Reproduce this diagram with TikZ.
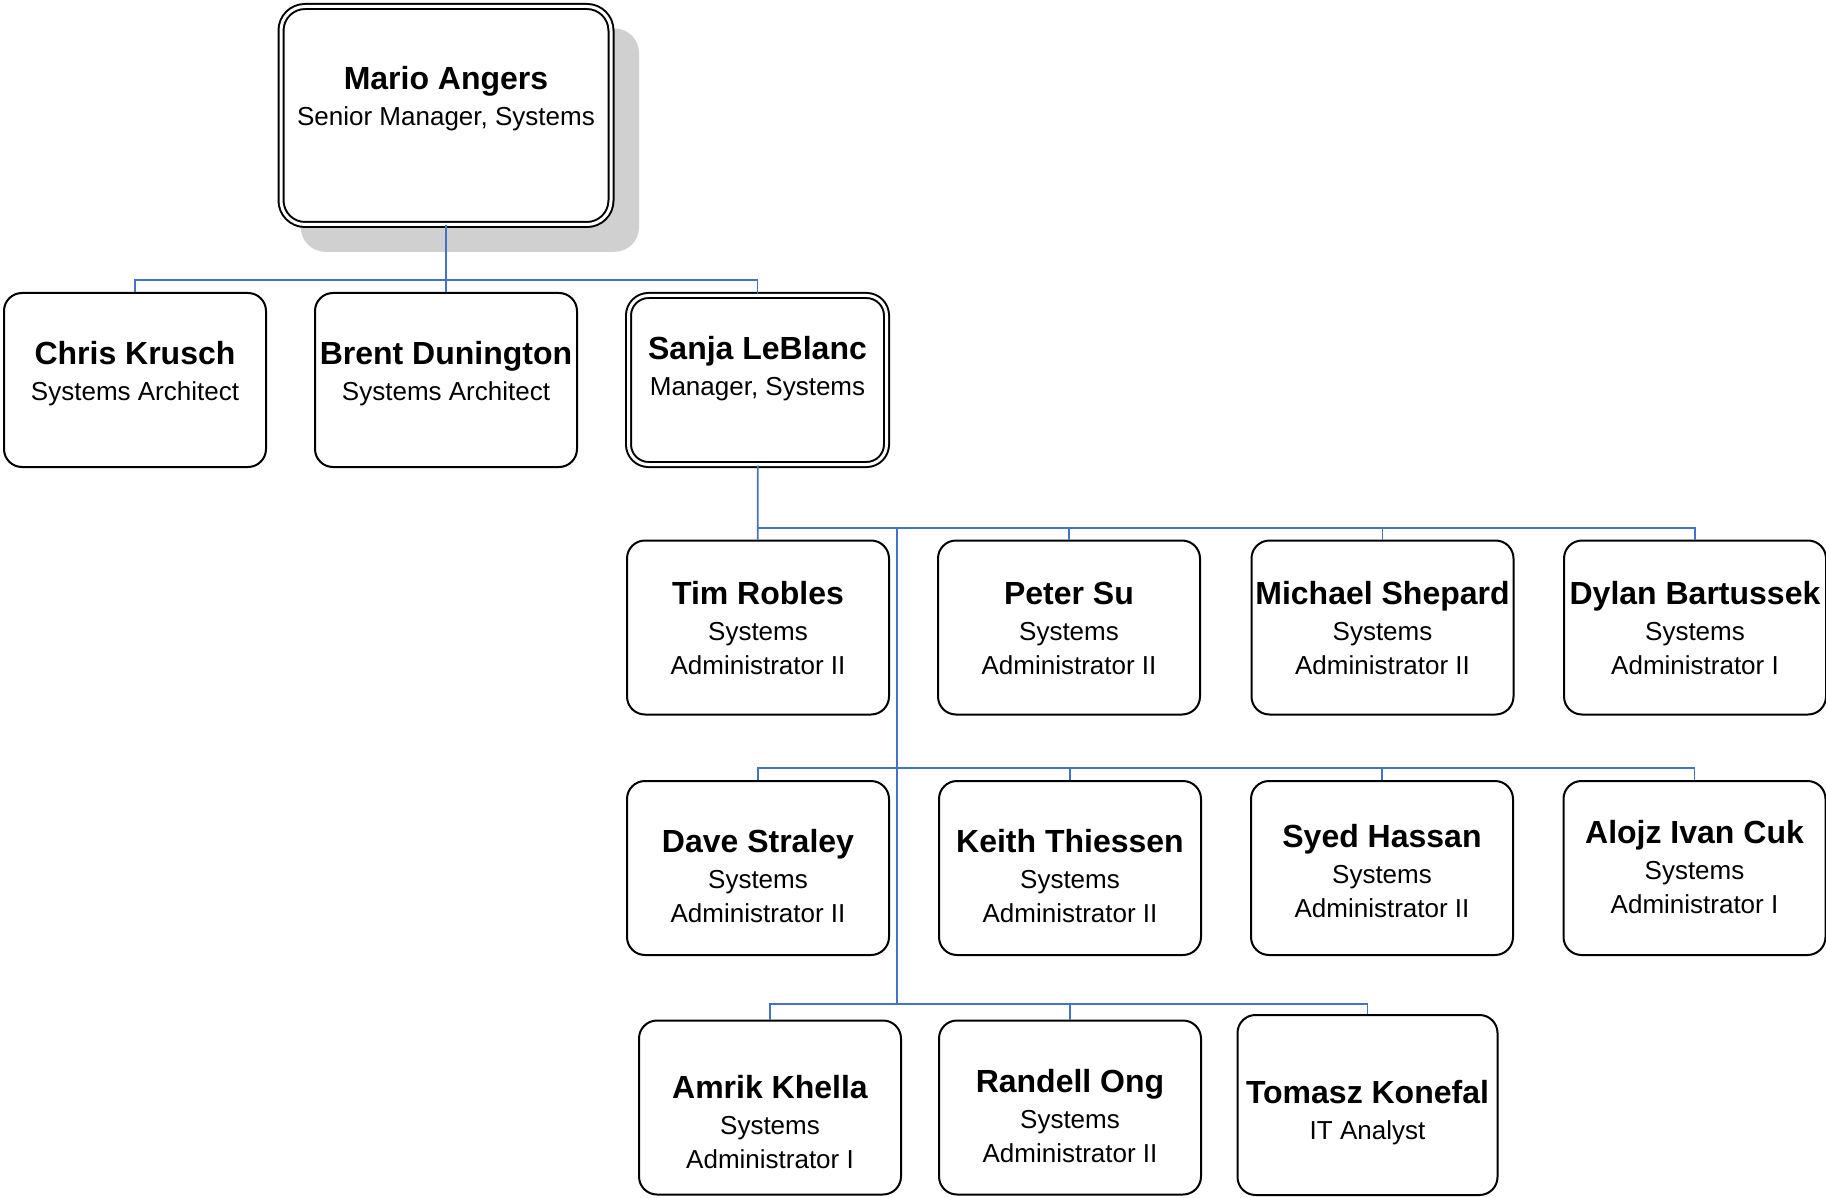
\documentclass[tikz,border=0pt]{standalone}
\usepackage{fontspec}
\setmainfont{Liberation Sans}
\usetikzlibrary{shadows}

\definecolor{linkblue}{RGB}{68,114,196}
\definecolor{shadowgray}{RGB}{208,208,208}

\newcommand{\namefont}{\fontsize{16}{17}\bfseries\selectfont}
\newcommand{\rolefont}{\fontsize{13}{17}\selectfont}
% name and role, raised by the optional argument
\newcommand{\card}[3][0pt]{\raisebox{#1}[0pt][0pt]{\rolefont\begin{tabular}{@{}c@{}}{\namefont #2}\\[1pt]#3\end{tabular}}}

\begin{document}
\begin{tikzpicture}[
		x=0.5pt, y=-0.5pt,
		link/.style={draw=linkblue, line width=0.9pt},
		person/.style={draw, line width=1pt, rounded corners=9pt, fill=white, inner sep=0pt, minimum width=131pt, minimum height=87pt},
		lead/.style={person, double, double distance=1.5pt, rounded corners=10pt, minimum width=129pt, minimum height=84.5pt},
	]
		\useasboundingbox (0,0) rectangle (1826,1198);

		\node (mario) at (446,115.5) [lead, minimum width=165pt, minimum height=109pt, rounded corners=12pt,
			drop shadow={shadow xshift=11.65pt, shadow yshift=-12pt, shadow scale=1.025, fill=shadowgray, opacity=1}]
			{\card[4.4pt]{Mario Angers}{Senior Manager, Systems}};

		\node (chris) at (135,380) [person] {\card[-0.6pt]{Chris Krusch}{Systems Architect}};
		\node (brent) at (446,380) [person] {\card[-0.6pt]{Brent Dunington}{Systems Architect}};
		\node (sanja) at (757.5,380) [lead] {\card[1.6pt]{Sanja LeBlanc}{Manager, Systems}};

		\node (tim) at (758,627.5) [person] {\card[-5.6pt]{Tim Robles}{Systems\\Administrator II}};
		\node (peter) at (1069,627.5) [person] {\card[-5.4pt]{Peter Su}{Systems\\Administrator II}};
		\node (michael) at (1382.5,627.5) [person] {\card[-5.6pt]{Michael Shepard}{Systems\\Administrator II}};
		\node (dylan) at (1695,627.5) [person] {\card[-5.6pt]{Dylan Bartussek}{Systems\\Administrator I}};

		\node (dave) at (758,868) [person] {\card[-9.4pt]{Dave Straley}{Systems\\Administrator II}};
		\node (keith) at (1070,868) [person] {\card[-9.4pt]{Keith Thiessen}{Systems\\Administrator II}};
		\node (syed) at (1382,868) [person] {\card[-7pt]{Syed Hassan}{Systems\\Administrator II}};
		\node (alojz) at (1694.5,868) [person] {\card[-4.7pt]{Alojz Ivan Cuk}{Systems\\Administrator I}};

		\node (amrik) at (770,1107.5) [person] {\card[-12.6pt]{Amrik Khella}{Systems\\Administrator I}};
		\node (randell) at (1070,1107.5) [person] {\card[-9.7pt]{Randell Ong}{Systems\\Administrator II}};
		\node (tomasz) at (1367.5,1105) [person, minimum width=130pt, minimum height=90pt] {\card[-7.9pt]{Tomasz Konefal}{IT Analyst}};

		% bus levels
		\coordinate (mbus) at (446,280);
		\coordinate (sbus) at (897,528);
		\coordinate (bus2) at (897,768);
		\coordinate (bus3) at (897,1004);

		\draw[link] (mario) -- (brent);
		\draw[link] (chris.north) |- (mbus) -| (sanja.north);

		\draw[link] (sanja) -- (tim);
		\draw[link] (tim.north |- sbus) -| (dylan.north);
		\foreach \p in {peter, michael}
			\draw[link] (\p.north |- sbus) -- (\p.north);
		\draw[link] (sbus) -- (bus3);

		\draw[link] (dave.north) |- (alojz.north |- bus2) -- (alojz.north);
		\foreach \p in {keith, syed}
			\draw[link] (\p.north |- bus2) -- (\p.north);

		\draw[link] (amrik.north) |- (tomasz.north |- bus3) -- (tomasz.north);
		\draw[link] (randell.north |- bus3) -- (randell.north);
	\end{tikzpicture}
\end{document}
